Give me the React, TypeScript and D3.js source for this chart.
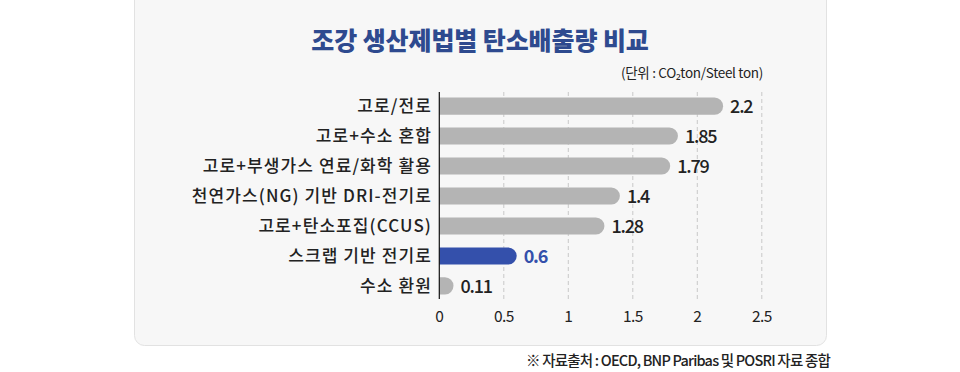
import React from "react";
import * as d3 from "d3";

const categories = [
  "고로/전로",
  "고로+수소 혼합",
  "고로+부생가스 연료/화학 활용",
  "천연가스(NG) 기반 DRI-전기로",
  "고로+탄소포집(CCUS)",
  "스크랩 기반 전기로",
  "수소 환원",
];
const values = [2.2, 1.85, 1.79, 1.4, 1.28, 0.6, 0.11];
const valueLabels = ["2.2", "1.85", "1.79", "1.4", "1.28", "0.6", "0.11"];
const highlight = "스크랩 기반 전기로";
const xTicks = [0, 0.5, 1, 1.5, 2, 2.5];
const tickLabels = ["0", "0.5", "1", "1.5", "2", "2.5"];

const FONT = "'Noto Sans CJK KR', 'Noto Sans', sans-serif";

export default function App() {
  const W = 960;
  const H = 372;
  const x = d3.scaleLinear().domain([0, 2.5]).range([439.3, 761.8]);
  const y = d3
    .scaleBand<string>()
    .domain(categories)
    .range([91, 301])
    .paddingInner(0.43)
    .paddingOuter(0.22);
  const bh = y.bandwidth();
  const blue = "#3450ab";
  const gray = "#b4b4b4";

  const barPath = (v: number, y0: number) => {
    const x0 = x(0);
    const x1 = x(v);
    const r = bh / 2;
    const xe = Math.max(x0, x1 - r);
    return `M${x0},${y0}H${xe}A${r},${r} 0 0 1 ${xe},${y0 + bh}H${x0}Z`;
  };

  return (
    <svg
      width={W}
      height={H}
      style={{ position: "absolute", left: 0, top: 0, fontFamily: FONT }}
    >
      <rect x={0} y={0} width={W} height={H} fill="#ffffff" />
      <rect
        x={134.5}
        y={-10}
        width={692}
        height={355.5}
        rx={10}
        ry={10}
        fill="#f7f7f7"
        stroke="#e2e2e2"
        strokeWidth={1}
      />
      <text
        x={480}
        y={50}
        textAnchor="middle"
        fontSize={25}
        fontWeight={900}
        fill="#2e4a8f"
        letterSpacing={-0.1}
      >
        조강 생산제법별 탄소배출량 비교
      </text>
      <text x={763} y={78} textAnchor="end" fontSize={13.5} fill="#222" letterSpacing={-0.3}>
        (단위 : CO₂ton/Steel ton)
      </text>

      {xTicks.map((t, i) =>
        i === 0 ? null : (
          <line
            key={"g" + t}
            x1={x(t)}
            x2={x(t)}
            y1={92}
            y2={299}
            stroke="#c8c8c8"
            strokeWidth={1}
            strokeDasharray="4,3"
          />
        )
      )}

      {categories.map((c, i) => {
        const y0 = y(c)!;
        const isH = c === highlight;
        return (
          <g key={c}>
            <path d={barPath(values[i], y0)} fill={isH ? blue : gray} />
            <text
              x={432}
              y={y0 + bh / 2}
              dy="0.36em"
              textAnchor="end"
              fontSize={17}
              fontWeight={500}
              fill="#222"
              letterSpacing={1.1}
            >
              {c}
            </text>
            <text
              x={x(values[i]) + 7}
              y={y0 + bh / 2}
              dy="0.38em"
              fontSize={18}
              fontWeight={isH ? 700 : 500}
              fill={isH ? blue : "#222"}
              letterSpacing={-1.2}
            >
              {valueLabels[i]}
            </text>
          </g>
        );
      })}

      <line x1={x(0)} x2={x(0)} y1={92} y2={299} stroke="#111" strokeWidth={1.2} />

      {xTicks.map((t, i) => (
        <text
          key={"t" + t}
          x={x(t)}
          y={316}
          dy="0.36em"
          textAnchor="middle"
          fontSize={15.5}
          fontWeight={400}
          fill="#222"
          letterSpacing={-0.6}
        >
          {tickLabels[i]}
        </text>
      ))}

      <text x={830} y={366} textAnchor="end" fontSize={14.5} fontWeight={500} fill="#222" letterSpacing={-0.8}>
        ※ 자료출처 : OECD, BNP Paribas 및 POSRI 자료 종합
      </text>
    </svg>
  );
}
